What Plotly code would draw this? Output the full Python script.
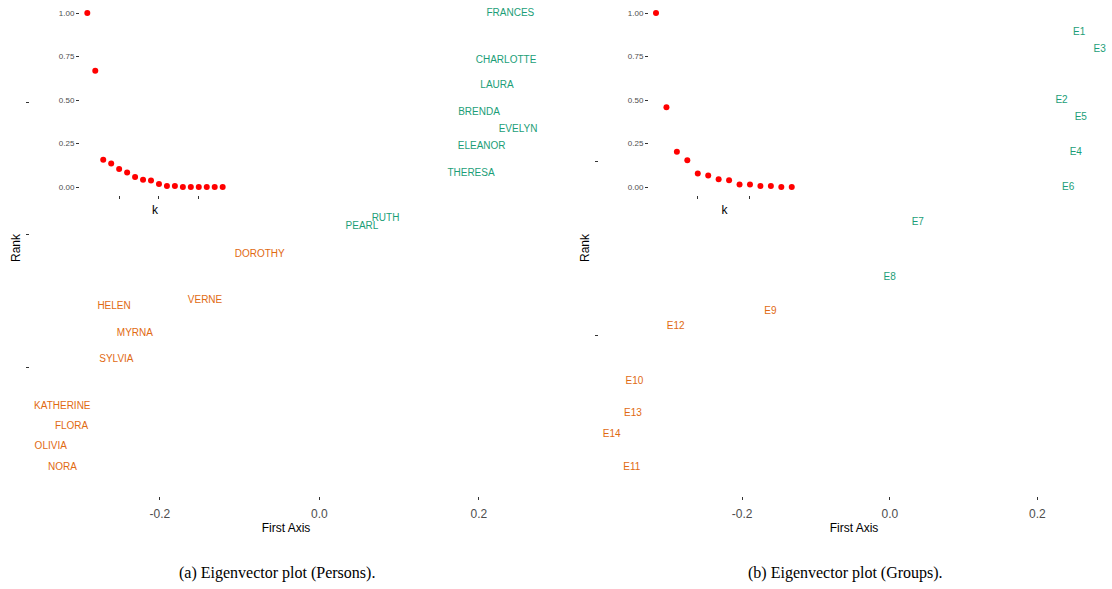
import plotly.graph_objects as go

# ---- Persons (panel a) ----
persons = ["FRANCES", "CHARLOTTE", "LAURA", "BRENDA", "EVELYN", "ELEANOR", "THERESA",
           "RUTH", "PEARL", "DOROTHY", "VERNE", "HELEN", "MYRNA", "SYLVIA",
           "KATHERINE", "FLORA", "OLIVIA", "NORA"]
persons_x = [0.2395, 0.2341, 0.2228, 0.2002, 0.2492, 0.2036, 0.1902,
             0.0830, 0.0535, -0.0747, -0.1433, -0.2574, -0.2313, -0.2545,
             -0.3223, -0.3107, -0.3368, -0.3220]
persons_y = [0.334, 0.2632, 0.2246, 0.1843, 0.1587, 0.1331, 0.0924,
             0.0241, 0.0121, -0.0301, -0.099, -0.1085, -0.1488, -0.1879,
             -0.2583, -0.2889, -0.3195, -0.3503]
persons_group = [1, 1, 1, 1, 1, 1, 1, 1, 1, 2, 2, 2, 2, 2, 2, 2, 2, 2]
persons_eig = [1.0, 0.668, 0.156, 0.135, 0.104, 0.083, 0.058, 0.042, 0.037,
               0.017, 0.006, 0.006, 0.0, 0.0, 0.0, 0.0, 0.0, 0.0]

# ---- Groups / events (panel b) ----
events = ["E1", "E3", "E2", "E5", "E4", "E6", "E7", "E8", "E9", "E12",
          "E10", "E13", "E14", "E11"]
events_x = [0.2566, 0.2844, 0.2327, 0.2588, 0.2520, 0.2417, 0.0379, -0.0001,
            -0.1617, -0.2900, -0.3460, -0.3480, -0.3767, -0.3496]
events_y = [0.3481, 0.3290, 0.2706, 0.2502, 0.2099, 0.1704, 0.1301, 0.0664,
            0.0268, 0.0096, -0.0538, -0.0906, -0.1143, -0.1520]
events_group = [1, 1, 1, 1, 1, 1, 1, 1, 2, 2, 2, 2, 2, 2]
events_eig = [1.0, 0.459, 0.203, 0.154, 0.077, 0.066, 0.044, 0.039, 0.014,
              0.014, 0.006, 0.006, 0.0, 0.0]

main_xticks = [-0.2, 0.0, 0.2]
main_xticktext = ["-0.2", "0.0", "0.2"]
inset_yticks = [0.0, 0.25, 0.5, 0.75, 1.0]
captions = ["(a) Eigenvector plot (Persons).", "(b) Eigenvector plot (Groups)."]

COLORS = {1: "#1B9E77", 2: "#DF6A12"}
W, H = 1112, 589


def fx(px):
    return px / W


def fy(py):
    return 1 - py / H


fig = go.Figure()

# main text scatters
fig.add_trace(go.Scatter(
    x=persons_x, y=persons_y, text=persons, mode="text",
    textposition="middle center",
    textfont=dict(family="Liberation Sans, Arial", size=10,
                  color=[COLORS[g] for g in persons_group]),
    xaxis="x", yaxis="y", showlegend=False, cliponaxis=False))
fig.add_trace(go.Scatter(
    x=events_x, y=events_y, text=events, mode="text",
    textposition="middle center",
    textfont=dict(family="Liberation Sans, Arial", size=10,
                  color=[COLORS[g] for g in events_group]),
    xaxis="x3", yaxis="y3", showlegend=False, cliponaxis=False))

# inset eigenvalue plots
fig.add_trace(go.Scatter(
    x=list(range(1, len(persons_eig) + 1)), y=persons_eig, mode="markers",
    marker=dict(color="#FF0000", size=6), xaxis="x2", yaxis="y2",
    showlegend=False, cliponaxis=False))
fig.add_trace(go.Scatter(
    x=list(range(1, len(events_eig) + 1)), y=events_eig, mode="markers",
    marker=dict(color="#FF0000", size=6), xaxis="x4", yaxis="y4",
    showlegend=False, cliponaxis=False))

tick_font = dict(family="Liberation Sans, Arial", size=12, color="#4D4D4D")
title_font = dict(family="Liberation Sans, Arial", size=12, color="#000000")
small_font = dict(family="Liberation Sans, Arial", size=8, color="#4D4D4D")

common_main_x = dict(showgrid=False, zeroline=False, showline=False,
                     ticks="outside", ticklen=3, tickcolor="#333333",
                     tickvals=main_xticks, ticktext=main_xticktext,
                     tickfont=tick_font, ticklabelstandoff=4,
                     title=dict(text="First Axis", font=title_font, standoff=3))
common_main_y = dict(showgrid=False, zeroline=False, showline=False,
                     ticks="outside", ticklen=3, tickcolor="#333333",
                     tickvals=[-0.2, 0.0, 0.2], ticktext=["", "", ""],
                     title=dict(text="Rank", font=title_font, standoff=0))

fig.update_layout(
    width=W, height=H, margin=dict(l=0, r=0, t=0, b=0),
    paper_bgcolor="white", plot_bgcolor="rgba(0,0,0,0)",
    hovermode=False,
    xaxis=dict(domain=[fx(30), fx(542)], range=[-0.3628, 0.2792],
               anchor="y", **common_main_x),
    yaxis=dict(domain=[fy(496), fy(0)], range=[-0.3936, 0.3539],
               anchor="x", **common_main_y),
    xaxis3=dict(domain=[fx(599), fx(1109)], range=[-0.394, 0.297],
                anchor="y3", **common_main_x),
    yaxis3=dict(domain=[fy(496), fy(0)], range=[-0.1854, 0.3858],
                anchor="x3", **common_main_y),
    xaxis2=dict(domain=[fx(80), fx(230)], range=[0.083, 18.92], anchor="y2",
                showgrid=False, zeroline=False, showline=False,
                ticks="outside", ticklen=3, tickcolor="#333333",
                tickvals=[5, 10, 15], ticktext=["", "", ""],
                title=dict(text="k", font=title_font, standoff=5)),
    yaxis2=dict(domain=[fy(195), fy(5)], range=[-0.046, 1.046], anchor="x2",
                showgrid=False, zeroline=False, showline=False,
                ticks="outside", ticklen=3, tickcolor="#333333",
                tickvals=inset_yticks, tickformat=".2f", tickfont=small_font),
    xaxis4=dict(domain=[fx(649), fx(800)], range=[0.33, 14.79], anchor="y4",
                showgrid=False, zeroline=False, showline=False,
                ticks="outside", ticklen=3, tickcolor="#333333",
                tickvals=[5, 10], ticktext=["", ""],
                title=dict(text="k", font=title_font, standoff=5)),
    yaxis4=dict(domain=[fy(195), fy(5)], range=[-0.046, 1.046], anchor="x4",
                showgrid=False, zeroline=False, showline=False,
                ticks="outside", ticklen=3, tickcolor="#333333",
                tickvals=inset_yticks, tickformat=".2f", tickfont=small_font),
)

for cx, txt in zip([277, 845], captions):
    fig.add_annotation(x=fx(cx), y=fy(573), xref="paper", yref="paper",
                       text=txt, showarrow=False, xanchor="center",
                       yanchor="middle",
                       font=dict(family="Liberation Serif, Times New Roman",
                                 size=16, color="#000000"))

# remove the default page margin so the figure fills the window exactly
fig.write_html("out.html",
               config={"displayModeBar": False, "staticPlot": True},
               post_script="document.body.style.margin='0';"
                           "document.body.style.overflow='hidden';")
